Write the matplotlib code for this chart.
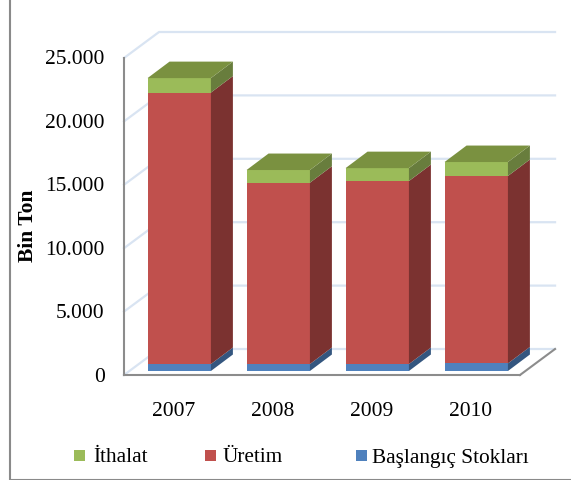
import numpy as np
import matplotlib
matplotlib.use('Agg')
import matplotlib.pyplot as plt
from matplotlib.lines import Line2D
from matplotlib.patches import Polygon, Rectangle
from matplotlib.transforms import ScaledTranslation

years = ["2007", "2008", "2009", "2010"]
stocks = [550, 550, 550, 600]
production = [21410, 14300, 14430, 14780]
imports = [1140, 1000, 1020, 1100]
yticks = [0, 5000, 10000, 15000, 20000, 25000]
yticklabels = ["0", "5.000", "10.000", "15.000", "20.000", "25.000"]

W, H = 571, 481
plt.rcParams['font.family'] = ['Liberation Serif', 'DejaVu Serif']
fig = plt.figure(figsize=(W / 100, H / 100), dpi=100, facecolor='white')
ax = fig.add_axes([124 / W, 1 - 376 / H, 396 / W, 317 / H])
ax.set_xlim(-0.5, 3.5)
ax.set_ylim(0, 25000)
ax.patch.set_visible(False)

# 3d look, depth in data units
wall_dx, wall_dy = 0.354, 2050
bar_dx, bar_dy = 0.222, 1300
lift_x, lift_y = 0.058, 315
bar_w = 0.64

grid_c = '#D9E4F2'
axis_c = '#8C8C8C'

for t in yticks[1:]:
    ax.plot([-0.5, -0.5 + wall_dx, 3.5 + wall_dx], [t, t + wall_dy, t + wall_dy],
            color=grid_c, lw=1.6, clip_on=False, zorder=1)
ax.plot([-0.5, -0.5 + wall_dx], [0, wall_dy], color=grid_c, lw=1.6, clip_on=False, zorder=1)
ax.plot([-0.5 + wall_dx, 3.5 + wall_dx], [wall_dy, wall_dy], color=grid_c, lw=1.6, clip_on=False, zorder=1)
ax.plot([3.5, 3.5 + wall_dx], [0, wall_dy], color=axis_c, lw=1.5, clip_on=False, zorder=2)

series = [
    (stocks, 'Başlangıç Stokları', '#4F81BD', '#34567F', '#4A6F9E'),
    (production, 'Üretim', '#C0504D', '#7B3230', '#9A3F3C'),
    (imports, 'İthalat', '#9BBB59', '#687D3D', '#7A9140'),
]

x = np.arange(len(years))
bottom = np.zeros(len(years)) + lift_y
for vals, name, front, side, top in series:
    vals = np.array(vals)
    ax.bar(x + lift_x, vals, bar_w, bottom=bottom, color=front, zorder=3, clip_on=False)
    for xi, b, v in zip(x + lift_x, bottom, vals):
        r = xi + bar_w / 2
        ax.add_patch(Polygon([(r, b), (r + bar_dx, b + bar_dy), (r + bar_dx, b + v + bar_dy), (r, b + v)],
                             closed=True, fc=side, ec='none', zorder=3, clip_on=False))
    bottom = bottom + vals

# top face only on last series
for xi, b in zip(x + lift_x, bottom):
    l, r = xi - bar_w / 2, xi + bar_w / 2
    ax.add_patch(Polygon([(l, b), (r, b), (r + bar_dx, b + bar_dy), (l + bar_dx, b + bar_dy)],
                         closed=True, fc=series[2][4], ec='none', zorder=3, clip_on=False))

for s in ['top', 'right']:
    ax.spines[s].set_visible(False)
for s in ['left', 'bottom']:
    ax.spines[s].set_color(axis_c)
    ax.spines[s].set_linewidth(1.5)
    ax.spines[s].set_zorder(4)

ax.set_xticks(x)
ax.set_xticklabels(years, fontsize=15.5)
ax.set_yticks(yticks)
ax.set_yticklabels(yticklabels, fontsize=15.5)
ax.tick_params(axis='x', length=0, pad=19)
ax.tick_params(axis='y', length=0, pad=14)
for lab in ax.get_yticklabels():
    lab.set_transform(lab.get_transform() + ScaledTranslation(0, 1.5 / 100, fig.dpi_scale_trans))

fig.text(28 / W, 1 - 226 / H, "Bin Ton", rotation=90, fontsize=15.5, fontweight='bold', ha='center', va='center')

# legend keeps uneven spacing of the original
for name, c, kx, tx in [('İthalat', '#9BBB59', 74, 93), ('Üretim', '#C0504D', 205, 223),
                        ('Başlangıç Stokları', '#4F81BD', 356, 372)]:
    fig.add_artist(Rectangle((kx / W, 1 - 462 / H), 11 / W, 11 / H, transform=fig.transFigure, fc=c, ec='none'))
    fig.text(tx / W, 1 - 458 / H, name, fontsize=15.3, ha='left', va='center')

# outer frame, only left and bottom show
fig.add_artist(Line2D([10 / W, 10 / W, 1], [1, 1 - 481 / H, 1 - 481 / H], transform=fig.transFigure,
                      color='#8A8A8A', lw=1.5))

plt.savefig('out.png', dpi=100, facecolor='white')
